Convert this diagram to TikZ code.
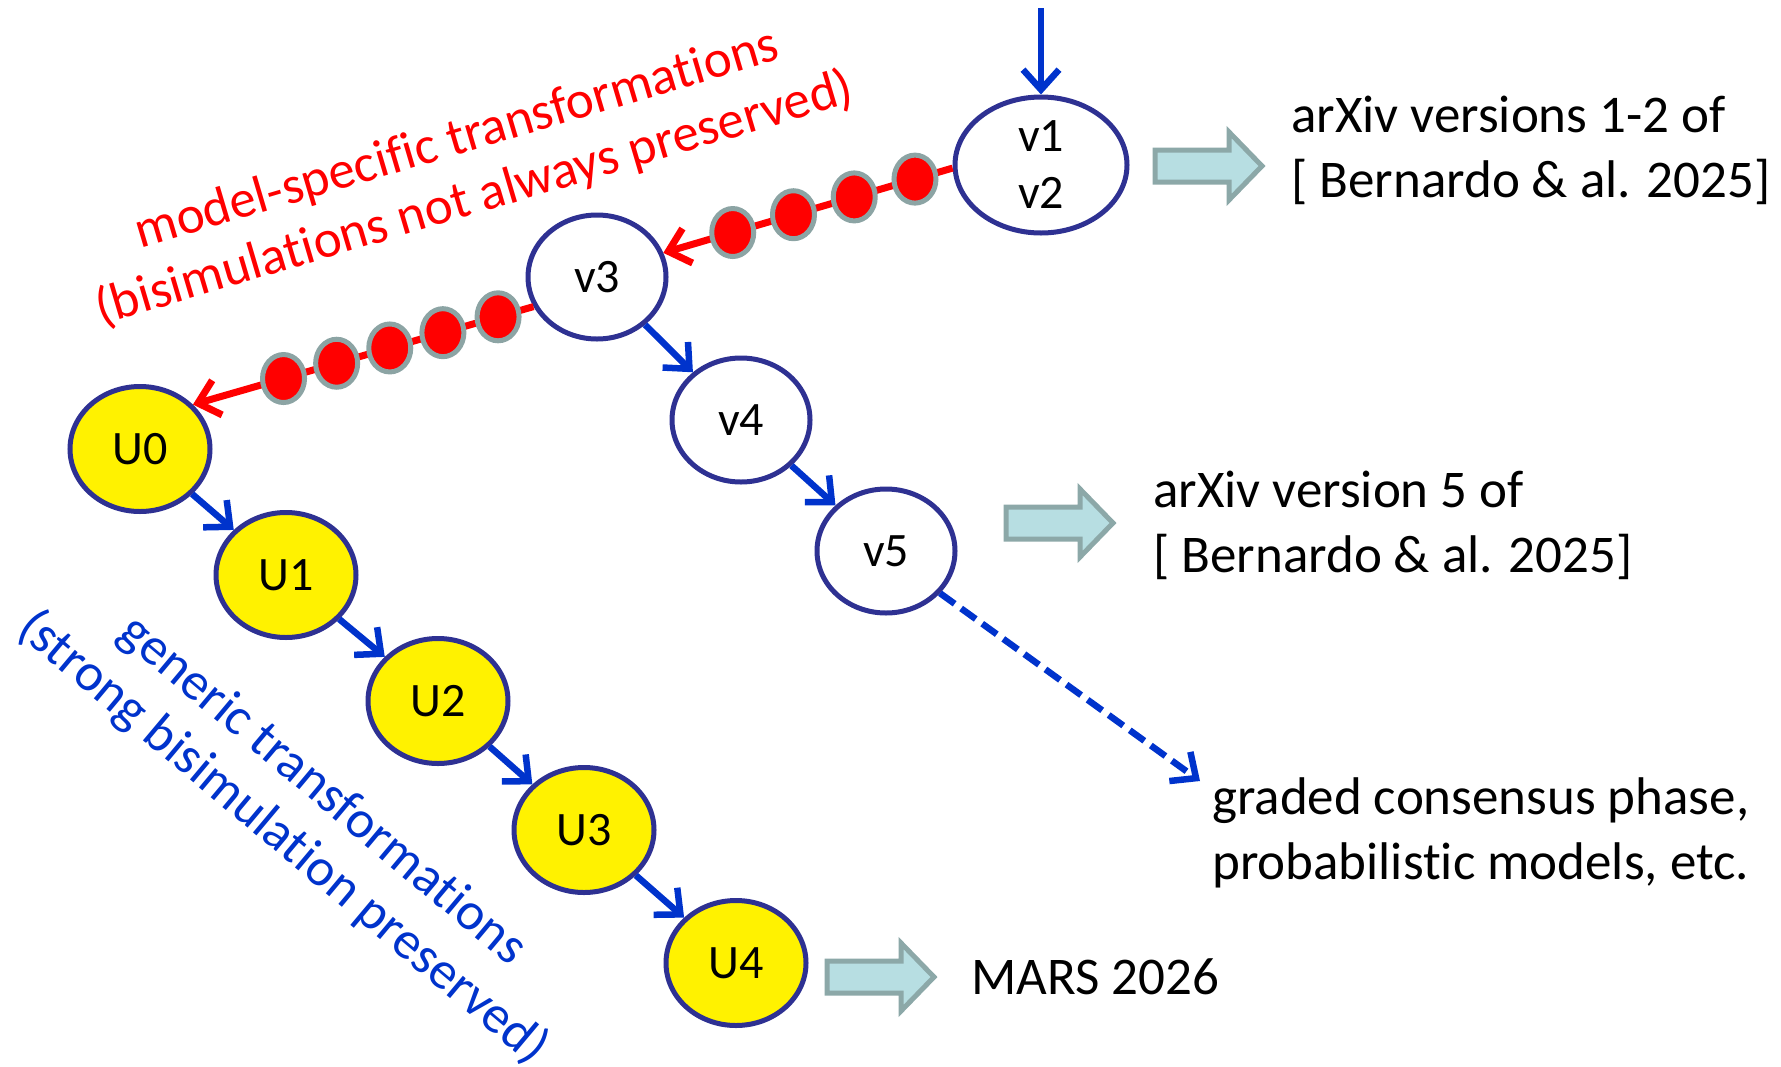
\documentclass[tikz,border=0pt]{standalone}
\usepackage{fontspec}
\setmainfont[Ligatures=NoCommon]{Carlito}
\usetikzlibrary{arrows.meta,shapes.geometric}
\definecolor{navy}{RGB}{46,49,146}
\definecolor{arrblue}{RGB}{0,51,204}
\definecolor{dotgray}{RGB}{140,164,164}
\definecolor{blockfill}{RGB}{183,222,226}
\definecolor{blockline}{RGB}{140,168,168}
\tikzset{
  vnode/.style={ellipse, draw=navy, line width=5pt, fill=white, minimum width=138pt, minimum height=124pt, inner sep=0pt, font=\fontsize{48}{57}\selectfont, align=center},
  unode/.style={vnode, fill=yellow, minimum width=140pt, minimum height=125pt},
  bluearrow/.style={draw=arrblue, line width=6.5pt, -{Straight Barb[length=20pt,width=36pt,line width=6.5pt]}},
  redarrow/.style={draw=red, line width=7pt, -{Straight Barb[length=20pt,width=36pt,line width=7pt]}},
  reddot/.style={ellipse, fill=red, draw=dotgray, line width=5pt, minimum width=42pt, minimum height=48pt, inner sep=0pt},
  blockarrow/.style={fill=blockfill, draw=blockline, line width=5pt, line join=miter},
  bigtext/.style={font=\fontsize{53}{65}\selectfont, align=left, anchor=west, inner sep=0pt},
  labtext/.style={font=\fontsize{53}{62}\selectfont, align=center, inner sep=0pt},
}
\begin{document}
\begin{tikzpicture}[x=1pt,y=-1pt]
\useasboundingbox (0,0) rectangle (1781,1066);
% nodes
\node[vnode, minimum width=172pt, minimum height=136pt] (v12) at (1041,165) {v1\\v2};
\node[vnode] (v3) at (597,277) {v3};
\node[vnode] (v4) at (741,420) {v4};
\node[vnode] (v5) at (886,551) {v5};
\node[unode] (U0) at (140,449) {U0};
\node[unode] (U1) at (286,575) {U1};
\node[unode] (U2) at (438,701) {U2};
\node[unode] (U3) at (584,830) {U3};
\node[unode] (U4) at (736,963) {U4};
\coordinate (topstart) at (1041,8);
\coordinate (dashend) at (1200,781);
% blue arrows
\draw[bluearrow] (topstart) -- (v12.north);
\draw[bluearrow] (v3) -- (v4);
\draw[bluearrow] (v4) -- (v5);
\draw[bluearrow] (U0) -- (U1);
\draw[bluearrow] (U1) -- (U2);
\draw[bluearrow] (U2) -- (U3);
\draw[bluearrow] (U3) -- (U4);
\draw[bluearrow, dash pattern=on 18pt off 8pt] (v5.322) -- (dashend);
% red arrows with dots
\draw[redarrow] (v12.182) -- (v3.20)
  node[pos=0.13, reddot] (d1) {} node[pos=0.34, reddot] (d2) {}
  node[pos=0.55, reddot] (d3) {} node[pos=0.76, reddot] (d4) {};
\draw[redarrow] (v3.205) -- (U0.40)
  node[pos=0.104, reddot] (e1) {} node[pos=0.266, reddot] (e2) {}
  node[pos=0.422, reddot] (e3) {} node[pos=0.578, reddot] (e4) {}
  node[pos=0.734, reddot] (e5) {};
% block arrows
\draw[blockarrow] (1155,150) -- (1229,150) -- (1229,132) -- (1262,166) -- (1229,200) -- (1229,182) -- (1155,182) -- cycle;
\draw[blockarrow] (1006,507) -- (1080,507) -- (1080,489) -- (1113,523) -- (1080,557) -- (1080,539) -- (1006,539) -- cycle;
\draw[blockarrow] (827,961) -- (901,961) -- (901,943) -- (934,977) -- (901,1011) -- (901,993) -- (827,993) -- cycle;
% texts
\node[bigtext] (t1) at (1291,150) {arXiv versions 1-2 of\\{[} Bernardo \& al. 2025]};
\node[bigtext] (t2) at (1153,525) {arXiv version 5 of\\{[} Bernardo \& al. 2025]};
\node[bigtext] (t3) at (1212,833) {graded consensus phase,\\probabilistic models, etc.};
\node[bigtext] (t4) at (971,977) {MARS 2026};
\node[labtext, text=red, rotate=16.5] (redlab) at (466,170) {model-specific transformations\\(bisimulations not always preserved)};
\node[labtext, text=arrblue, rotate=-40] (bluelab) at (302,815) {generic transformations\\(strong bisimulation preserved)};
\end{tikzpicture}
\end{document}
